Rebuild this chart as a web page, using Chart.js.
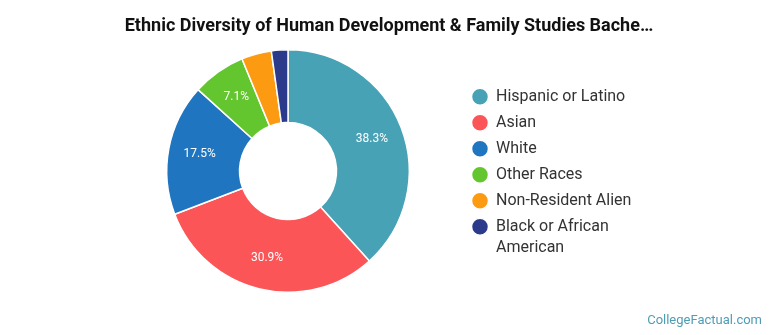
<!DOCTYPE html>
<html>
<head>
<meta charset="utf-8">
<script src="https://cdn.jsdelivr.net/npm/chart.js@4.4.0/dist/chart.umd.min.js"></script>
<style>
  html, body { margin: 0; padding: 0; background: #fff; }
  #wrap { width: 770px; height: 335px; position: relative; }
</style>
</head>
<body>
<div id="wrap"><canvas id="ethnicChart"></canvas></div>
<script>
const categories = ['Hispanic or Latino', 'Asian', 'White', 'Other Races', 'Non-Resident Alien', ['Black or African', 'American']];
const shares = [38.3, 30.9, 17.5, 7.1, 4.0, 2.2];
const sliceColors = ['#48a2b5', '#fc5558', '#1f75bf', '#63c62e', '#fc9a12', '#2c3a8c'];

// put the doughnut left of centre and the legend right next to it
const placeParts = {
    id: 'placeParts',
    afterLayout(chart) {
        const area = chart.chartArea;
        area.left = 166; area.right = 410; area.width = 244;
        area.top = 49; area.bottom = 293; area.height = 244;
        const lg = chart.legend;
        const w = lg.width;
        lg.left = 462;
        lg.right = 462 + w;
        lg.top += 7;
        lg.bottom += 7;
    }
};

// percentage text inside the bigger slices
const sliceLabels = {
    id: 'sliceLabels',
    afterDatasetsDraw(chart) {
        const ctx = chart.ctx;
        const meta = chart.getDatasetMeta(0);
        ctx.save();
        ctx.font = '12px Roboto';
        ctx.fillStyle = '#fff';
        ctx.textAlign = 'center';
        ctx.textBaseline = 'middle';
        meta.data.forEach((arc, i) => {
            if (shares[i] < 5) return;
            const p = arc.getProps(['x', 'y', 'startAngle', 'endAngle', 'innerRadius', 'outerRadius']);
            const mid = (p.startAngle + p.endAngle) / 2;
            const r = p.innerRadius + (p.outerRadius - p.innerRadius) * 0.57;
            ctx.fillText(shares[i].toFixed(1) + '%', p.x + Math.cos(mid) * r, p.y + Math.sin(mid) * r);
        });
        ctx.restore();
    }
};

document.addEventListener('DOMContentLoaded', function () {
    const ctx = document.getElementById('ethnicChart').getContext('2d');
    new Chart(ctx, {
        type: 'doughnut',
        data: {
            labels: categories,
            datasets: [{
                data: shares,
                backgroundColor: sliceColors,
                borderColor: '#fff',
                borderWidth: 1.5
            }]
        },
        options: {
            responsive: true,
            maintainAspectRatio: false,
            animation: false,
            cutout: '40%',
            layout: { padding: { left: 16, right: 8 } },
            plugins: {
                title: {
                    display: true,
                    text: 'Ethnic Diversity of Human Development & Family Studies Bache\u2026',
                    color: '#111',
                    font: { family: 'Roboto', size: 18, weight: 'bold' },
                    padding: { top: 16, bottom: 10 }
                },
                subtitle: {
                    display: true,
                    position: 'bottom',
                    align: 'end',
                    text: 'CollegeFactual.com',
                    color: '#4f9db5',
                    font: { family: 'Roboto', size: 13 },
                    padding: { top: 10, bottom: 6 }
                },
                legend: {
                    position: 'right',
                    labels: {
                        usePointStyle: true,
                        pointStyle: 'circle',
                        boxWidth: 16,
                        boxHeight: 12,
                        padding: 10,
                        color: '#333',
                        font: { family: 'Roboto', size: 16, lineHeight: 1.3 }
                    }
                },
                tooltip: { enabled: false }
            }
        },
        plugins: [placeParts, sliceLabels]
    });
});
</script>
</body>
</html>
